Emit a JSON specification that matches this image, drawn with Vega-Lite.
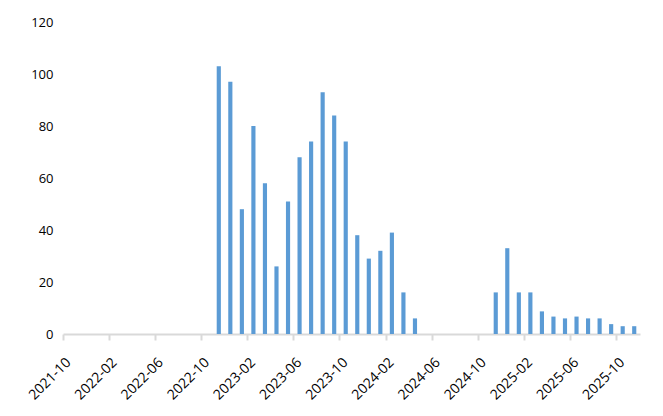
{
  "$schema": "https://vega.github.io/schema/vega-lite/v6.json",
  "autosize": {"type": "none"},
  "width": 577,
  "height": 312,
  "padding": {"left": 63, "top": 22, "right": 23, "bottom": 82},
  "background": "white",
  "config": {
    "view": {"stroke": null},
    "font": "Open Sans"
  },
  "data": {
    "values": [
      {"month": "2021-10", "value": 0},
      {"month": "2021-11", "value": 0},
      {"month": "2021-12", "value": 0},
      {"month": "2022-01", "value": 0},
      {"month": "2022-02", "value": 0},
      {"month": "2022-03", "value": 0},
      {"month": "2022-04", "value": 0},
      {"month": "2022-05", "value": 0},
      {"month": "2022-06", "value": 0},
      {"month": "2022-07", "value": 0},
      {"month": "2022-08", "value": 0},
      {"month": "2022-09", "value": 0},
      {"month": "2022-10", "value": 0},
      {"month": "2022-11", "value": 103},
      {"month": "2022-12", "value": 97},
      {"month": "2023-01", "value": 48},
      {"month": "2023-02", "value": 80},
      {"month": "2023-03", "value": 58},
      {"month": "2023-04", "value": 26},
      {"month": "2023-05", "value": 51},
      {"month": "2023-06", "value": 68},
      {"month": "2023-07", "value": 74},
      {"month": "2023-08", "value": 93},
      {"month": "2023-09", "value": 84},
      {"month": "2023-10", "value": 74},
      {"month": "2023-11", "value": 38},
      {"month": "2023-12", "value": 29},
      {"month": "2024-01", "value": 32},
      {"month": "2024-02", "value": 39},
      {"month": "2024-03", "value": 16},
      {"month": "2024-04", "value": 6},
      {"month": "2024-05", "value": 0},
      {"month": "2024-06", "value": 0},
      {"month": "2024-07", "value": 0},
      {"month": "2024-08", "value": 0},
      {"month": "2024-09", "value": 0},
      {"month": "2024-10", "value": 0},
      {"month": "2024-11", "value": 16},
      {"month": "2024-12", "value": 33},
      {"month": "2025-01", "value": 16},
      {"month": "2025-02", "value": 16},
      {"month": "2025-03", "value": 8.7},
      {"month": "2025-04", "value": 6.7},
      {"month": "2025-05", "value": 6},
      {"month": "2025-06", "value": 6.7},
      {"month": "2025-07", "value": 6},
      {"month": "2025-08", "value": 6},
      {"month": "2025-09", "value": 3.8},
      {"month": "2025-10", "value": 3},
      {"month": "2025-11", "value": 3}
    ]
  },
  "mark": {"type": "bar", "color": "#5b9bd5", "width": {"band": 0.36}},
  "encoding": {
    "x": {
      "field": "month",
      "type": "ordinal",
      "sort": null,
      "scale": {"paddingInner": 0, "paddingOuter": 0},
      "axis": {
        "title": null,
        "values": ["2021-10", "2022-02", "2022-06", "2022-10", "2023-02", "2023-06", "2023-10", "2024-02", "2024-06", "2024-10", "2025-02", "2025-06", "2025-10"],
        "bandPosition": 0,
        "domainColor": "#d9d9d9",
        "domainWidth": 2,
        "tickColor": "#d9d9d9",
        "tickWidth": 2,
        "tickSize": 6,
        "labelAngle": -45,
        "labelAlign": "right",
        "labelBaseline": "middle",
        "labelFontSize": 14,
        "labelColor": "#000000",
        "labelPadding": 20,
        "labelDx": 4.08,
        "labelDy": 4.08
      }
    },
    "y": {
      "field": "value",
      "type": "quantitative",
      "scale": {"domain": [0, 120]},
      "axis": {
        "title": null,
        "values": [0, 20, 40, 60, 80, 100, 120],
        "domain": false,
        "ticks": false,
        "grid": false,
        "labelFontSize": 13,
        "labelColor": "#000000",
        "labelPadding": 10
      }
    }
  }
}
